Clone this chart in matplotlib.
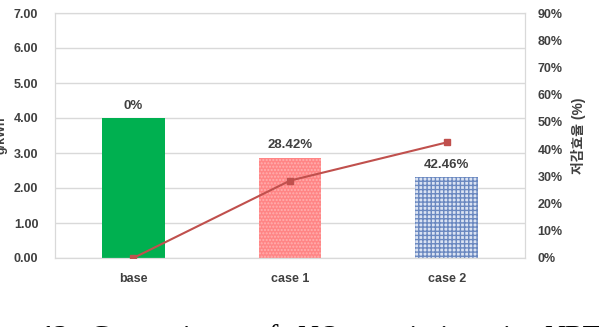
import matplotlib.pyplot as plt
import numpy as np

# data
cases = ['base', 'case 1', 'case 2']
nox = [4.00, 2.863, 2.302]          # g/kWh
reduction = [0.0, 28.42, 42.46]     # %
bar_labels = ['0%', '28.42%', '42.46%']

plt.rcParams['font.family'] = ['Liberation Sans', 'Noto Sans CJK KR', 'DejaVu Sans']

W, H = 599, 327
fig = plt.figure(figsize=(W / 100, H / 100), dpi=100)
ax = fig.add_axes([55 / W, 1 - 258 / H, 470 / W, 245 / H])

x = np.arange(len(cases))
bars = ax.bar(x, nox, width=0.4, zorder=2)
bars[0].set_facecolor('#00b050')
bars[1].set_facecolor('#ff8585')
bars[1].set_hatch('.....')
bars[1].set_edgecolor('#ffb0b0')
bars[1].set_linewidth(0)
bars[2].set_facecolor('#dbe3f2')
bars[2].set_hatch('++++')
bars[2].set_edgecolor('#6a88c0')
bars[2].set_linewidth(0)

for b, lab in zip(bars, bar_labels):
    ax.text(b.get_x() + b.get_width() / 2, b.get_height() + 0.18, lab,
            ha='center', va='bottom', fontsize=9.5, fontweight='bold', color='#404040')

ax.set_xlim(-0.5, 2.5)
ax.set_ylim(0, 7)
ax.set_yticks(np.arange(0, 8, 1))
ax.set_yticklabels([f'{v:.2f}' for v in np.arange(0, 8, 1)])
ax.set_xticks(x)
ax.set_xticklabels(cases)
ax.yaxis.grid(True, color='#d9d9d9', linewidth=1, zorder=0)
ax.set_axisbelow(True)
ax.tick_params(axis='y', length=0, labelsize=9, colors='#404040', pad=12)
ax.tick_params(axis='x', length=0, labelsize=9, colors='#404040', pad=11)
for lab in ax.get_xticklabels() + ax.get_yticklabels():
    lab.set_fontweight('bold')
for s in ax.spines.values():
    s.set_color('#d9d9d9')
ax.set_ylabel('g/kWh', fontsize=9, fontweight='bold', color='#404040')
ax.yaxis.set_label_coords(-0.1, 0.5)

ax2 = ax.twinx()
ax2.plot(x, reduction, color='#c0504d', marker='s', markersize=4.5, linewidth=1.5, zorder=3)
ax2.set_ylim(0, 90)
ax2.set_yticks(np.arange(0, 100, 10))
ax2.set_yticklabels([f'{v}%' for v in range(0, 100, 10)])
ax2.tick_params(length=0, labelsize=9, colors='#404040', pad=9)
for lab in ax2.get_yticklabels():
    lab.set_fontweight('bold')
for s in ax2.spines.values():
    s.set_color('#d9d9d9')
ax2.set_ylabel('저감효율 (%)', fontsize=10, fontweight='bold', color='#404040', labelpad=6)

# caption, cut off at the bottom edge as in the source
cap_y = 1 - 345 / H
fig.text(40 / W, cap_y, '12.', fontsize=21, fontweight='bold', family='Liberation Serif', va='baseline')
for px, word in [(90, 'Comparisons'), (255, 'of'), (297, 'NO$_x$'), (375, 'emissions'),
                 (502, 'in'), (544, 'NRTC')]:
    fig.text(px / W, cap_y, word, fontsize=21, family='Liberation Serif', va='baseline')

fig.savefig('out.png', dpi=100)
